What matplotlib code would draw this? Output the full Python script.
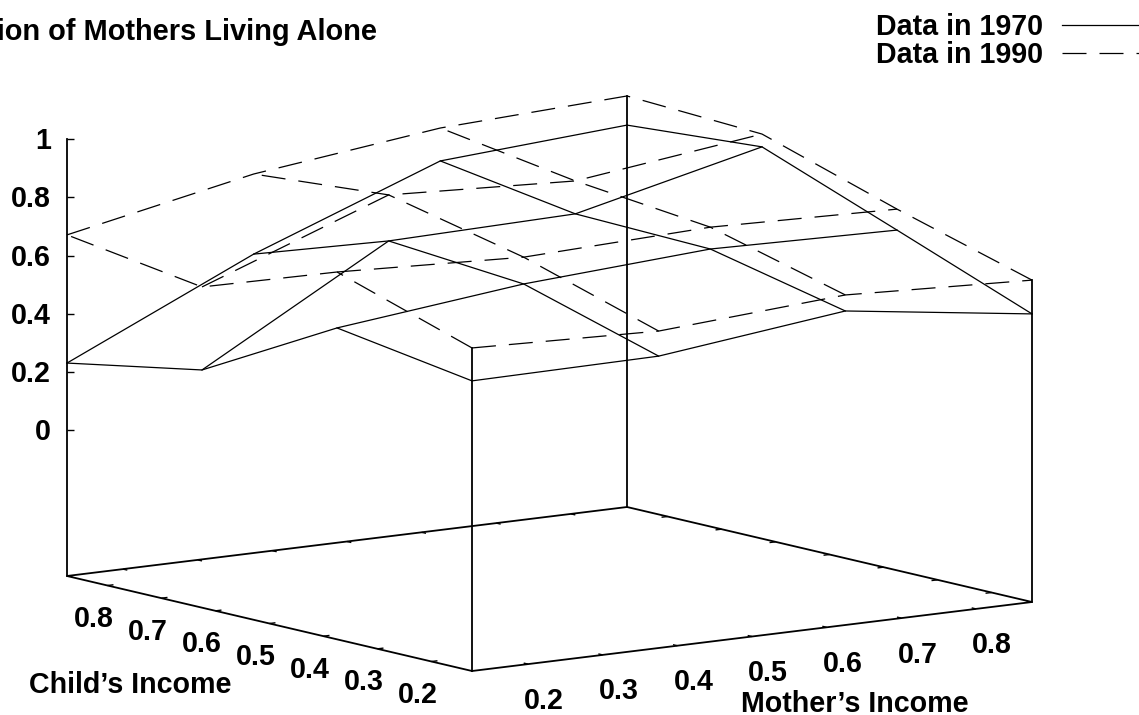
import matplotlib
matplotlib.use("Agg")
import matplotlib.pyplot as plt
import numpy as np

plt.rcParams['font.family'] = ['Liberation Sans', 'DejaVu Sans']

# income quartile midpoints the surfaces are sampled on
mother_income = [0.125, 0.375, 0.625, 0.875]
child_income = [0.125, 0.375, 0.625, 0.875]

# rows are child's income, columns are mother's income
data_1970 = np.array([
    [0.496, 0.502, 0.578, 0.489],
    [0.569, 0.641, 0.682, 0.668],
    [0.316, 0.680, 0.694, 0.845],
    [0.231, 0.526, 0.767, 0.811],
])
data_1990 = np.array([
    [0.609, 0.588, 0.633, 0.605],
    [0.761, 0.733, 0.757, 0.740],
    [0.601, 0.838, 0.807, 0.889],
    [0.671, 0.801, 0.880, 0.911],
])

xy_ticks = [0.2, 0.3, 0.4, 0.5, 0.6, 0.7, 0.8]
xy_ticklabels = ['0.2', '0.3', '0.4', '0.5', '0.6', '0.7', '0.8']
z_ticks = [0, 0.2, 0.4, 0.6, 0.8, 1]
z_ticklabels = ['0', '0.2', '0.4', '0.6', '0.8', '1']
z_floor = -0.5

title = "Proportion of Mothers Living Alone"
mother_label = "Mother\u2019s Income"
child_label = "Child\u2019s Income"
legend_labels = ["Data in 1970", "Data in 1990"]


def project(m, c, z):
    # same fixed view as the gnuplot splot, result is in image pixels
    t_m = (np.asarray(m) - 0.125) / 0.75
    t_c = (np.asarray(c) - 0.125) / 0.75
    px = 472 + 560 * t_m - 405 * t_c
    py = 671 - 69 * t_m - 95 * t_c - (np.asarray(z) - z_floor) * 291.3
    return px, py


def line3d(ax, m, c, z, **kw):
    px, py = project(m, c, z)
    ax.plot(px, py, **kw)


fig = plt.figure(figsize=(11.39, 7.15), dpi=100)
ax = fig.add_axes([0, 0, 1, 1])
ax.set_xlim(0, 1139)
ax.set_ylim(715, 0)
ax.axis('off')

axis_kw = dict(color='black', lw=1.3, solid_capstyle='projecting')
tick_kw = dict(color='black', lw=1.0, solid_capstyle='butt')
solid_kw = dict(color='black', lw=0.9, linestyle='-', solid_joinstyle='miter')
dash_kw = dict(color='black', lw=0.9, linestyle=(0, (19.2, 10.4)), dash_capstyle='butt')
text_kw = dict(fontsize=20.6, fontweight='bold', va='baseline')

m0, m1 = mother_income[0], mother_income[-1]
c0, c1 = child_income[0], child_income[-1]

# floor
line3d(ax, [m0, m1, m1, m0, m0], [c0, c0, c1, c1, c0], [z_floor] * 5, **axis_kw)

# verticals at the corners, left one carries the z axis
line3d(ax, [m0, m0], [c1, c1], [z_floor, z_ticks[-1]], **axis_kw)
line3d(ax, [m0, m0], [c0, c0], [z_floor, data_1990[0, 0]], **axis_kw)
line3d(ax, [m1, m1], [c0, c0], [z_floor, data_1990[0, 3]], **axis_kw)
line3d(ax, [m1, m1], [c1, c1], [z_floor, data_1990[3, 3]], **axis_kw)

# floor ticks, very short in the original
tick_len = 0.008
for t, lab in zip(xy_ticks, xy_ticklabels):
    line3d(ax, [t, t], [c0, c0 + tick_len], [z_floor, z_floor], **tick_kw)
    line3d(ax, [t, t], [c1, c1 - tick_len], [z_floor, z_floor], **tick_kw)
    line3d(ax, [m0, m0 + tick_len], [t, t], [z_floor, z_floor], **tick_kw)
    line3d(ax, [m1, m1 - tick_len], [t, t], [z_floor, z_floor], **tick_kw)
    px, py = project(t, c0, z_floor)
    ax.text(px + 16, py + 44.5, lab, ha='center', **text_kw)
    px, py = project(m0, t, z_floor)
    ax.text(px - 14, py + 41.5, lab, ha='center', **text_kw)

# z ticks
for t, lab in zip(z_ticks, z_ticklabels):
    px, py = project(m0, c1, t)
    ax.plot([px, px + 7], [py, py], **tick_kw)
    ax.text(px - 16, py + 10, lab, ha='right', **text_kw)

# wireframes
for grid, kw in [(data_1970, solid_kw), (data_1990, dash_kw)]:
    for j, c in enumerate(child_income):
        line3d(ax, mother_income, [c] * len(mother_income), grid[j, :], **kw)
    for i, m in enumerate(mother_income):
        line3d(ax, [m] * len(child_income), child_income, grid[:, i], **kw)

# text, the title runs off the left edge like in the original
ax.text(377, 40, title, ha='right', fontsize=20.85, fontweight='bold', va='baseline')
ax.text(855, 712, mother_label, ha='center', **text_kw)
ax.text(130, 693, child_label, ha='center', **text_kw)

# legend
ax.text(1043, 35, legend_labels[0], ha='right', **text_kw)
ax.text(1043, 63, legend_labels[1], ha='right', **text_kw)
ax.plot([1062, 1139], [25, 25], **solid_kw)
ax.plot([1062, 1139], [53, 53], **dash_kw)

fig.savefig("out.png", dpi=100)
